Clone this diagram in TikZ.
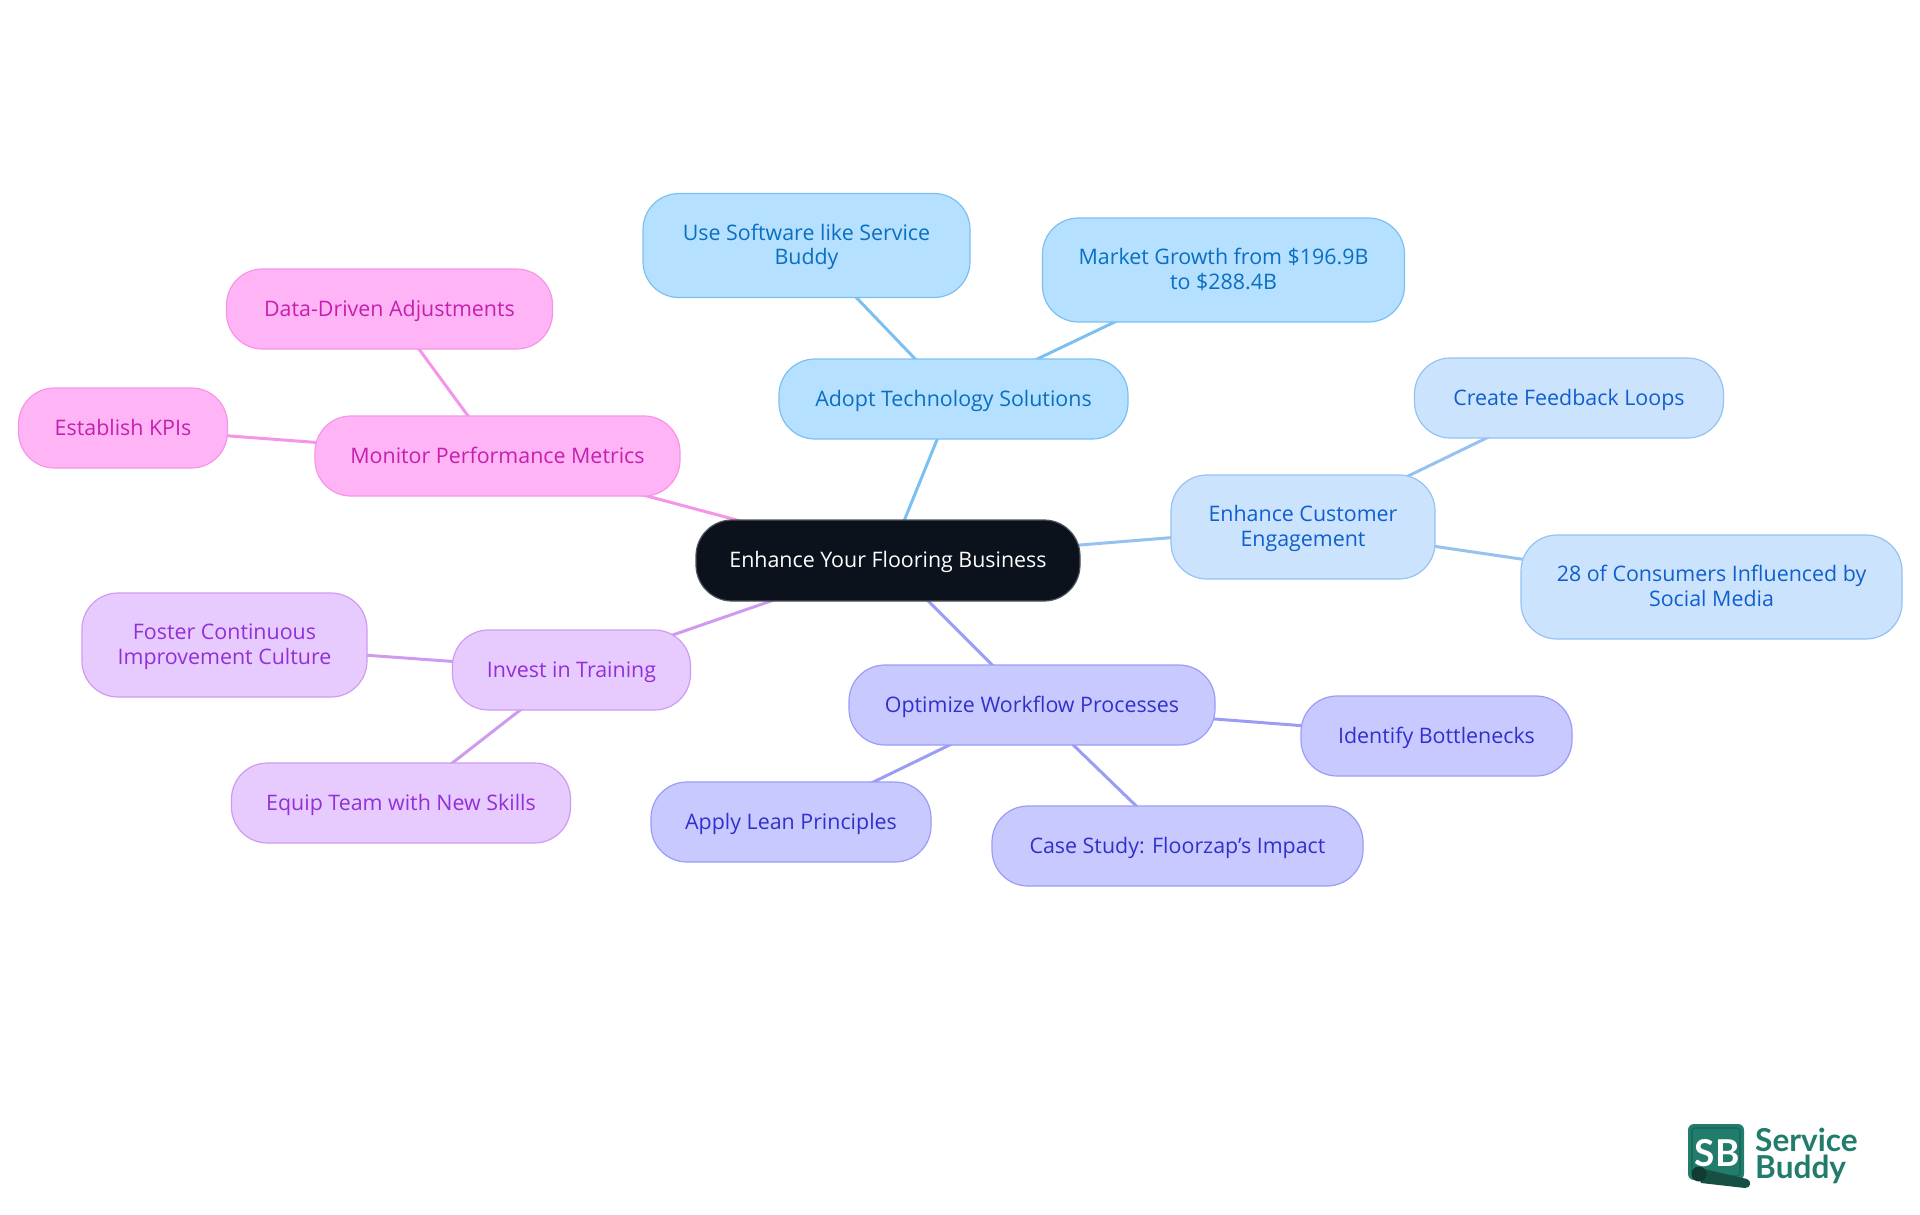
\documentclass[tikz,border=0pt]{standalone}
\usepackage{fontspec}
\setmainfont{Open Sans}
\newfontfamily\logofont{Lato}
\usetikzlibrary{backgrounds}
\definecolor{rootfill}{HTML}{0B121B}
\definecolor{rootline}{HTML}{50555B}
\definecolor{afill}{HTML}{B5E0FF}\definecolor{aline}{HTML}{7CC0F2}\definecolor{atext}{HTML}{0A6FC2}
\definecolor{bfill}{HTML}{CCE3FD}\definecolor{bline}{HTML}{96C2F2}\definecolor{btext}{HTML}{0F5FCE}
\definecolor{cfill}{HTML}{C8CAFF}\definecolor{cline}{HTML}{9A9CF5}\definecolor{ctext}{HTML}{3230CC}
\definecolor{dfill}{HTML}{E7CBFF}\definecolor{dline}{HTML}{CF9BF0}\definecolor{dtext}{HTML}{9130D8}
\definecolor{efill}{HTML}{FFB5F5}\definecolor{eline}{HTML}{F595E8}\definecolor{etext}{HTML}{C61FB0}
\definecolor{logogreen}{HTML}{217C6C}
\definecolor{logodark}{HTML}{174F43}
\definecolor{logomid}{HTML}{1A6A5B}
\tikzset{
  box/.style={draw, rounded corners=36pt, inner sep=0pt, line width=1.2pt, align=center,
    text height=18pt, text depth=4pt,
    font=\fontsize{21.4}{24.2}\selectfont},
  twoline/.style={text height=42.2pt},
  rootbox/.style={box, fill=rootfill, draw=rootline, text=white},
  abox/.style={box, fill=afill, draw=aline, text=atext},
  bbox/.style={box, fill=bfill, draw=bline, text=btext},
  cbox/.style={box, fill=cfill, draw=cline, text=ctext},
  dbox/.style={box, fill=dfill, draw=dline, text=dtext},
  ebox/.style={box, fill=efill, draw=eline, text=etext},
  size/.style 2 args={minimum width=#1pt, minimum height=#2pt},
  link/.style={line width=3pt},
}
\begin{document}
\begin{tikzpicture}[x=1pt,y=-1pt]
\useasboundingbox (0,0) rectangle (1920,1215);
\node[rootbox,size={384}{81}] (root) at (888,560.5) {Enhance Your Flooring Business};
\node[abox,size={349}{80}] (adopt) at (953.5,399) {Adopt Technology Solutions};
\node[abox,twoline,size={327}{104}] (soft) at (806.5,245.5) {Use Software like Service\\Buddy};
\node[abox,twoline,size={362}{104}] (market) at (1223.5,270) {Market Growth from \$196.9B\\to \$288.4B};
\node[bbox,twoline,size={264}{104}] (cust) at (1303,527) {Enhance Customer\\Engagement};
\node[bbox,size={309}{80}] (loops) at (1569,398) {Create Feedback Loops};
\node[bbox,twoline,size={381}{104}] (social) at (1711.5,587) {28 of Consumers Influenced by\\Social Media};
\node[cbox,size={366}{80}] (work) at (1032,705) {Optimize Workflow Processes};
\node[cbox,size={271}{80}] (bott) at (1436.5,736) {Identify Bottlenecks};
\node[cbox,size={280}{80}] (lean) at (791,822) {Apply Lean Principles};
\node[cbox,size={371}{80}] (case) at (1177.5,846) {Case Study: Floorzap's Impact};
\node[dbox,size={238}{80}] (train) at (571.5,670) {Invest in Training};
\node[dbox,twoline,size={285}{104}] (foster) at (224.5,645) {Foster Continuous\\Improvement Culture};
\node[dbox,size={339}{80}] (equip) at (401,803) {Equip Team with New Skills};
\node[ebox,size={365}{80}] (metric) at (497.5,456) {Monitor Performance Metrics};
\node[ebox,size={326}{80}] (data) at (389.5,309) {Data-Driven Adjustments};
\node[ebox,size={209}{80}] (kpi) at (123,428) {Establish KPIs};
\begin{scope}[on background layer]
\draw[link,aline] (root.center) -- (adopt.center);
\draw[link,aline] (adopt.center) -- (soft.center);
\draw[link,aline] (adopt.center) -- (market.center);
\draw[link,bline] (root.center) -- (cust.center);
\draw[link,bline] (cust.center) -- (loops.center);
\draw[link,bline] (cust.center) -- (social.center);
\draw[link,cline] (root.center) -- (work.center);
\draw[link,cline] (work.center) -- (bott.center);
\draw[link,cline] (work.center) -- (lean.center);
\draw[link,cline] (work.center) -- (case.center);
\draw[link,dline] (root.center) -- (train.center);
\draw[link,dline] (train.center) -- (foster.center);
\draw[link,dline] (train.center) -- (equip.center);
\draw[link,eline] (root.center) -- (metric.center);
\draw[link,eline] (metric.center) -- (data.center);
\draw[link,eline] (metric.center) -- (kpi.center);
\end{scope}
% logo
\fill[logogreen,rounded corners=6pt] (1688,1124) rectangle (1744,1180);
\draw[logomid,line width=1.6pt,rounded corners=3pt] (1692,1128) rectangle (1740,1176);
\node[text=white,inner sep=0pt,font=\logofont\bfseries\fontsize{37}{37}\selectfont] (sb) at (1717,1153) {SB};
\fill[logodark] (1695,1167) -- (1747,1179) .. controls (1752,1181) and (1751,1188) .. (1745,1188) -- (1701,1183) -- cycle;
\fill[logodark!75!black] (1699,1174) circle[radius=7.5];
\node[anchor=west,text=logogreen,inner sep=0pt,font=\logofont\bfseries\fontsize{31.6}{27.5}\selectfont,align=left] (brand) at (1755,1156) {Service\\Buddy};
\end{tikzpicture}
\end{document}
